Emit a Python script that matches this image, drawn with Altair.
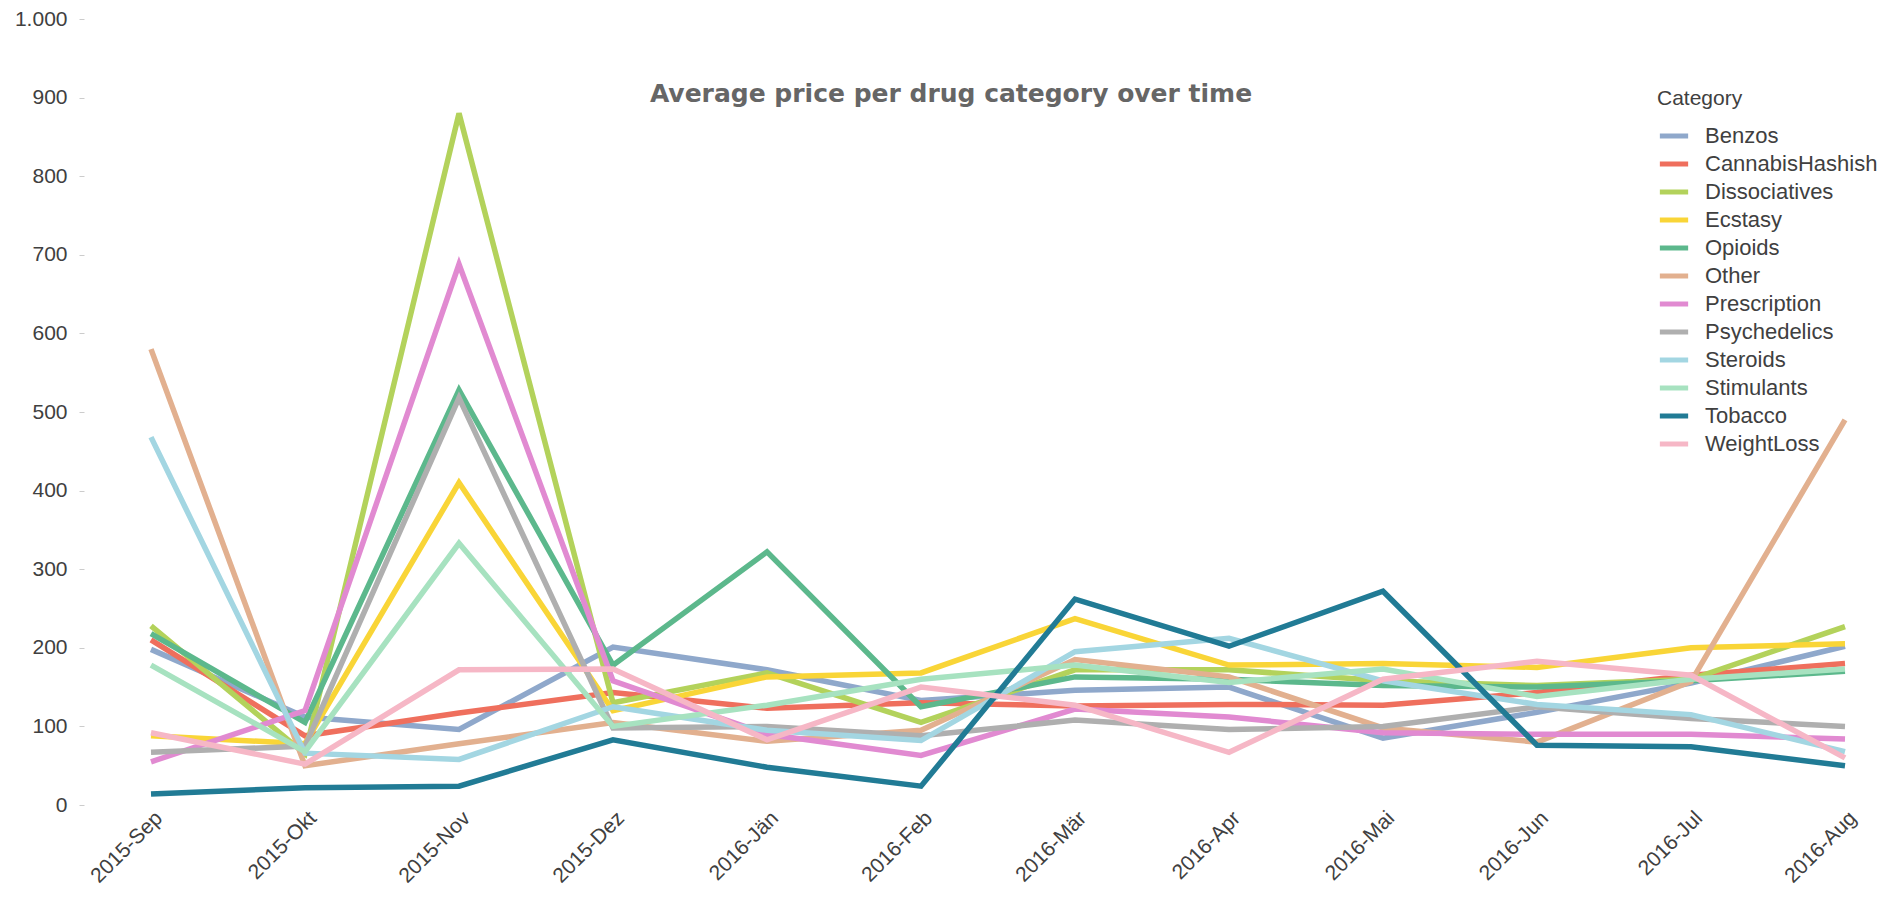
import altair as alt
import pandas as pd

months = ["2015-Sep", "2015-Okt", "2015-Nov", "2015-Dez", "2016-Jän", "2016-Feb",
          "2016-Mär", "2016-Apr", "2016-Mai", "2016-Jun", "2016-Jul", "2016-Aug"]

categories = ["Benzos", "CannabisHashish", "Dissociatives", "Ecstasy", "Opioids", "Other",
              "Prescription", "Psychedelics", "Steroids", "Stimulants", "Tobacco", "WeightLoss"]

colors = ["#8fa8cb", "#ef6f5d", "#b3d25b", "#f9d537", "#5cb88c", "#e2b08f",
          "#e18ad1", "#afafaf", "#a3d6e2", "#a7e2c0", "#217b95", "#f6b7c6"]

benzos =          [198, 112,  96, 201, 172, 133, 146, 150,  85, 118, 155, 202]
cannabis =        [210,  88, 117, 143, 123, 130, 126, 128, 127, 143, 165, 180]
dissociatives =   [228,  65, 880, 130, 168, 105, 172, 172, 158, 152, 160, 227]
ecstasy =         [ 88,  78, 410, 120, 163, 168, 237, 178, 180, 175, 200, 205]
opioids =         [218, 105, 528, 178, 322, 125, 163, 160, 152, 150, 158, 170]
other =           [580,  50,  78, 105,  81,  95, 185, 163,  98,  80, 157, 490]
prescription =    [ 55, 120, 688, 158,  90,  63, 122, 112,  92,  90,  90,  84]
psychedelics =    [ 67,  75, 518,  98, 100,  88, 108,  96, 100, 125, 110, 100]
steroids =        [468,  66,  58, 125,  95,  82, 195, 212, 158, 128, 115,  68]
stimulants =      [178,  68, 333, 100, 127, 160, 178, 156, 173, 138, 160, 173]
tobacco =         [ 14,  22,  24,  83,  48,  24, 262, 202, 272,  76,  74,  50]
weightloss =      [ 92,  52, 172, 173,  83, 150, 127,  67, 160, 183, 165,  60]

series = [benzos, cannabis, dissociatives, ecstasy, opioids, other,
          prescription, psychedelics, steroids, stimulants, tobacco, weightloss]

rows = []
for cat, vals in zip(categories, series):
    for m, v in zip(months, vals):
        rows.append({"Month": m, "Category": cat, "Price": v})
df = pd.DataFrame(rows)

chart = alt.Chart(df).mark_line(strokeWidth=5.5, interpolate="linear").encode(
    x=alt.X("Month:N", sort=months,
            scale=alt.Scale(type="point", range=[67, 1761], padding=0),
            axis=alt.Axis(title=None, labelAngle=-45, labelFontSize=21,
                          labelFont="Liberation Sans", labelColor="#404040",
                          ticks=False, domain=False, grid=False, labelPadding=2)),
    y=alt.Y("Price:Q", scale=alt.Scale(domain=[0, 1000], nice=False),
            axis=alt.Axis(title=None, values=list(range(0, 1001, 100)),
                          labelExpr="replace(format(datum.value, ','), ',', '.')",
                          labelFontSize=21, labelFont="Liberation Sans",
                          labelColor="#404040", tickColor="#cccccc", tickSize=5,
                          labelPadding=12, domain=False, grid=False)),
    color=alt.Color("Category:N", sort=categories,
                    scale=alt.Scale(domain=categories, range=colors),
                    legend=alt.Legend(orient="none", legendX=1573, legendY=69,
                                      title="Category", titleFontSize=21,
                                      titleFont="Liberation Sans", titleFontWeight="normal",
                                      titleColor="#404040", titlePadding=10,
                                      labelFontSize=22, labelFont="Liberation Sans",
                                      labelColor="#404040", labelOffset=14, labelLimit=0,
                                      symbolType="stroke", symbolStrokeWidth=5,
                                      symbolSize=800, rowPadding=0, padding=0)),
).properties(
    width=1790,
    height=786,
    padding={"left": 76, "top": 11, "right": 5, "bottom": 87},
    autosize=alt.AutoSizeParams(type="none"),
    title=alt.TitleParams(text="Average price per drug category over time",
                          font="DejaVu Sans", fontSize=25, fontWeight="bold",
                          color="#666666", anchor="middle", dx=-28, dy=103),
).configure_view(stroke=None)

chart.save("out.html", embed_options={"renderer": "svg", "actions": False})
